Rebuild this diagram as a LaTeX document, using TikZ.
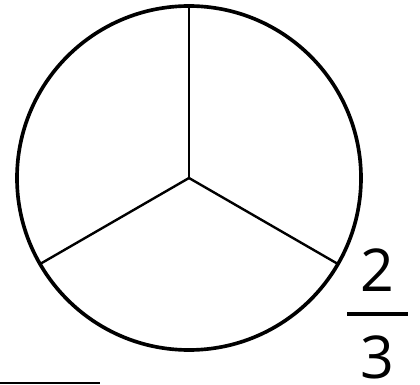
\documentclass[tikz,border=0pt]{standalone}
\usepackage{fontspec}
\setmainfont{Open Sans}
\begin{document}
\begin{tikzpicture}[x=0.025cm, y=-0.025cm]
			\useasboundingbox (0,0) rectangle (420,385);
			
			% Kreis
			\coordinate (mitte) at (189,178);
			\draw[line width=2.6pt] (mitte) circle (172);
			
			% Teilung
			\foreach \winkel in {-90, 150, 30} {
				\draw[line width=1.7pt] (mitte) -- ++(\winkel:172);
			}
			
			% Bruch
			\node[font=\fontsize{42}{48}\selectfont, inner sep=0pt] (zaehler) at (377,270) {2};
			\node[font=\fontsize{42}{48}\selectfont, inner sep=0pt] (nenner) at (377,357) {3};
			\draw[line width=2.4pt] (347,314) -- (408,314);
			
			% Linie
			\draw[line width=1.8pt] (0,383) -- (100,383);
			
		\end{tikzpicture}
\end{document}
